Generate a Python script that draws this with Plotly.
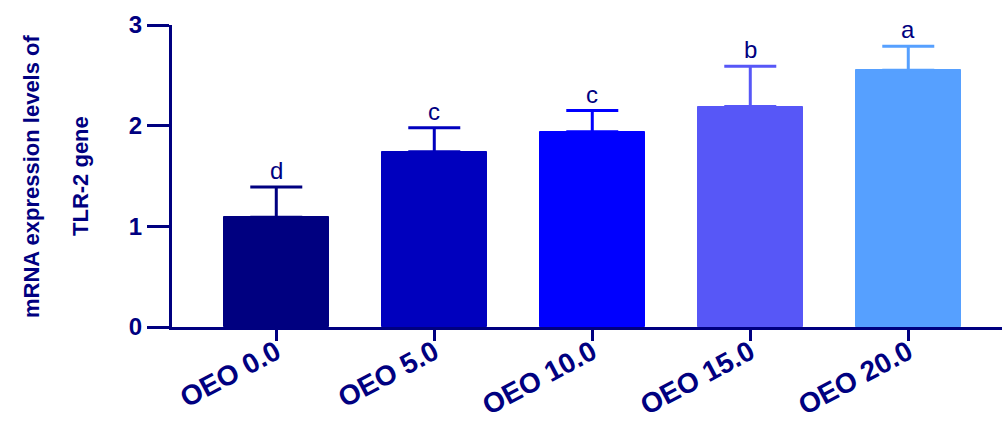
import plotly.graph_objects as go

# Relative TLR-2 mRNA expression by OEO dose
groups = ["OEO 0.0", "OEO 5.0", "OEO 10.0", "OEO 15.0", "OEO 20.0"]
means = [1.09, 1.74, 1.94, 2.19, 2.55]
sd = [0.30, 0.24, 0.21, 0.40, 0.24]
letters = ["d", "c", "c", "b", "a"]
bar_colors = ["#000080", "#0000BE", "#0000FF", "#5757F7", "#56A0FF"]

NAVY = "#000080"
W, H = 1004, 427
L, R, T, B = 172, 2, 25, 100
plot_w = W - L - R

fig = go.Figure()
for g, m, s, c in zip(groups, means, sd, bar_colors):
    fig.add_trace(go.Bar(
        x=[g], y=[m], width=0.665,
        marker=dict(color=c, line=dict(color=c, width=1)),
        error_y=dict(type="data", array=[s], arrayminus=[0], symmetric=False,
                     color=c, thickness=3, width=26),
        showlegend=False,
    ))

# significance letters above each error bar
for g, m, s, t in zip(groups, means, sd, letters):
    fig.add_annotation(x=g, y=m + s, text=t, showarrow=False,
                       yanchor="bottom", yshift=1,
                       font=dict(family="Liberation Sans, Arial, sans-serif",
                                 size=24, color=NAVY))

# two-line rotated y-axis title
title_font = dict(family="Liberation Sans, Arial, sans-serif",
                  size=22, color=NAVY, weight="bold")
for px, txt in [(31, "mRNA expression levels of"), (80, "TLR-2 gene")]:
    fig.add_annotation(xref="paper", yref="paper", x=(px - L) / plot_w, y=0.5,
                       text=txt, showarrow=False, textangle=-90,
                       xanchor="center", yanchor="middle", font=title_font)

fig.update_layout(
    width=W, height=H,
    margin=dict(l=L, r=R, t=T, b=B, pad=0, autoexpand=False),
    plot_bgcolor="white", paper_bgcolor="white",
    barmode="overlay",
    bargap=0,
)
fig.update_xaxes(
    type="category", range=[-0.66, -0.66 + plot_w / 158],
    automargin=False,
    showline=True, linecolor=NAVY, linewidth=3,
    ticks="outside", ticklen=11, tickwidth=3, tickcolor=NAVY,
    tickangle=-28, ticklabelstandoff=-16,
    showgrid=False, zeroline=False,
    tickfont=dict(family="Liberation Sans, Arial, sans-serif", size=28,
                  color=NAVY, weight="bold"),
)
fig.update_yaxes(
    range=[0, 3], tickvals=[0, 1, 2, 3],
    automargin=False,
    showline=True, linecolor=NAVY, linewidth=3,
    ticks="outside", ticklen=22, tickwidth=3, tickcolor=NAVY,
    showgrid=False, zeroline=False,
    tickfont=dict(family="Liberation Sans, Arial, sans-serif", size=24,
                  color=NAVY, weight="bold"),
)

fig.write_html("out.html")
